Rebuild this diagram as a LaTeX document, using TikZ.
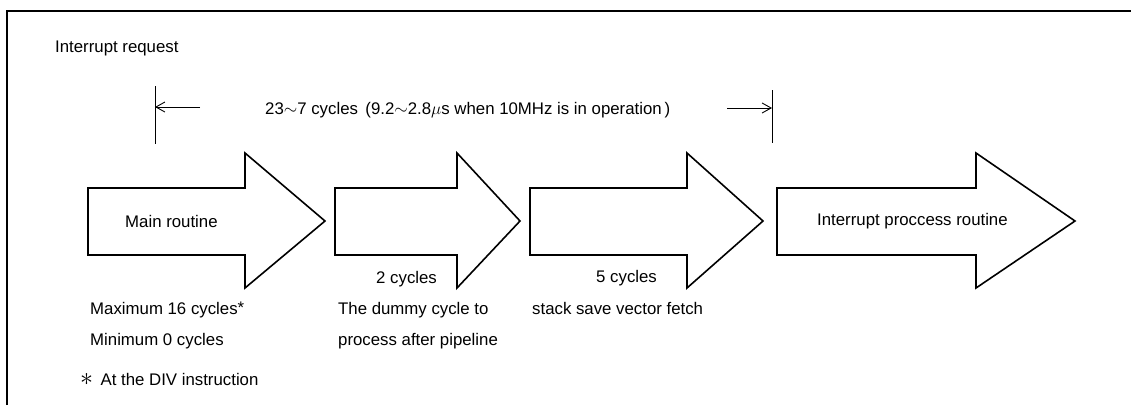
\documentclass[tikz,border=0pt]{standalone}
\usepackage{fontspec}
\setmainfont{Liberation Sans}
\usetikzlibrary{arrows.meta}

% block arrow: #1 name, #2 left edge, #3 head base, #4 tip
\newcommand{\blockarrow}[4]{%
  \draw[blockarrow] (#2,188) -- (#3,188) -- (#3,153) -- (#4,221)
    -- (#3,288) -- (#3,255) -- (#2,255) -- cycle;
  \coordinate (#1) at (#2,221);
}

\begin{document}
\begin{tikzpicture}[x=1pt,y=-1pt,
  blockarrow/.style={draw=black,line width=1.6pt,line join=miter,fill=white},
  frameline/.style={line width=1.8pt},
  tick/.style={line width=1pt},
  dimarrow/.style={line width=0.9pt,-{Straight Barb[length=9pt,width=10pt]}},
  lbl/.style={anchor=base west,inner sep=0pt,font=\fontsize{16.8}{19}\selectfont}]

\useasboundingbox (0,0) rectangle (1131,405);

% frame corner
\coordinate (fl) at (7,405);
\coordinate (fc) at (7,11);
\coordinate (fr) at (1131,11);
\draw[frameline] (fl) -- (fc) -- (fr);

\node[lbl] (req) at (55,52) {Interrupt request};

% the span from the interrupt request to the start of the service routine
\coordinate (lt) at (155,86);
\coordinate (lb) at (155,144);
\coordinate (rt) at (772,90);
\coordinate (rb) at (772,143);
\draw[tick] (lt) -- (lb);
\draw[tick] (rt) -- (rb);
\coordinate (la) at (200,107);
\coordinate (lh) at (155,107);
\coordinate (ra) at (727,108);
\coordinate (rh) at (772,108);
\draw[dimarrow] (la) -- (lh);
\draw[dimarrow] (ra) -- (rh);
\node[lbl] (span) at (265,114) {23$\sim$7 cycles \,(9.2$\sim$2.8$\mu$s when 10MHz is in operation\,)};

% the four stages
\blockarrow{main}{88}{245}{325}
\blockarrow{dummy}{335}{457}{520}
\blockarrow{stack}{530}{687}{763}
\blockarrow{isr}{777}{976}{1075}

\node[lbl] (mainlbl) at (125,227) {Main routine};
\node[lbl] (isrlbl) at (817,225) {Interrupt proccess routine};
\node[lbl] (dummycyc) at (376,283) {2 cycles};
\node[lbl] (stackcyc) at (596,282) {5 cycles};

\node[lbl] (max) at (90,314) {Maximum 16 cycles{\raisebox{1pt}{*}}};
\node[lbl] (min) at (90,345) {Minimum 0 cycles};
\node[lbl] (dummy1) at (338,314) {The dummy cycle to};
\node[lbl] (dummy2) at (338,345) {process after pipeline};
\node[lbl] (stacklbl) at (532,314) {stack save vector fetch};
\node[lbl] (note) at (80,385) {\scalebox{1.5}{$\ast$}\, At the DIV instruction};

\end{tikzpicture}
\end{document}
